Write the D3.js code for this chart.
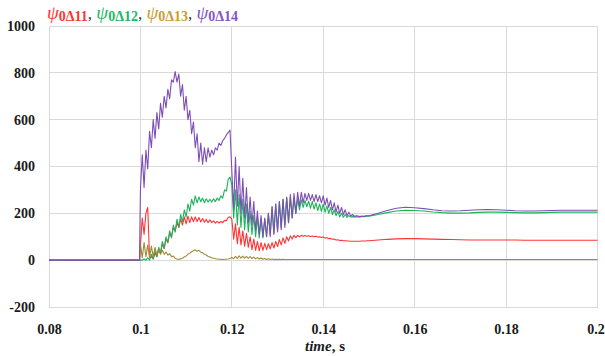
<!DOCTYPE html>
<html><head><meta charset="utf-8">
<script src="https://cdn.jsdelivr.net/npm/d3@7"></script>
<style>body{margin:0;background:#fff}svg{display:block}</style>
</head><body><svg id="c" width="605" height="356"></svg>
<script>
// ---------- data ----------
const xTicks = [0.08, 0.1, 0.12, 0.14, 0.16, 0.18, 0.2];
const xTickLabels = ["0.08", "0.1", "0.12", "0.14", "0.16", "0.18", "0.2"];
const yTicks = [-200, 0, 200, 400, 600, 800, 1000];
const yTickLabels = ["-200", "0", "200", "400", "600", "800", "1000"];
const seriesNames = ["0Δ11", "0Δ12", "0Δ13", "0Δ14"];

// pre-fault (all series zero)
const preTimes = [0.08, 0.0998];
const preValues = [0, 0];

// fast transient: samples every 0.4 ms starting at t = 0.1000 s
const fastStart = 0.1, fastStep = 0.0004;
const psi11Fast = [
  60,180,110,200,225,10,15,5,30,15,
  45,30,70,50,90,75,115,100,140,125,
  160,140,175,150,185,155,188,160,185,165,
  185,165,182,163,178,162,175,160,172,160,
  168,158,166,158,165,160,170,168,182,185,
  175,90,155,70,140,65,125,60,115,55,
  100,45,90,42,80,40,75,42,72,45,
  70,48,75,52,80,58,88,65,95,72,
  100,82,104,90,106,96,106,100,106,102,
  105,102,104,101,103,100,102,99,100,97,
  99,95,96,92,93,89,90,86,87,84,
  85,83,83,82,82,81,81,81,81,81,
  81,82,82,82,83];
const psi12Fast = [
  0,0,5,0,10,0,25,5,40,15,
  55,30,80,50,100,75,125,95,150,120,
  175,140,195,165,215,185,240,210,260,235,
  275,245,270,250,265,245,262,248,260,248,
  262,250,265,255,275,265,300,295,345,355,
  320,180,300,150,280,140,260,130,240,120,
  210,110,190,100,180,95,175,95,175,100,
  200,110,225,115,240,125,250,140,260,150,
  265,160,270,180,265,200,262,215,258,225,
  255,228,252,222,250,218,245,212,240,208,
  240,205,232,200,225,195,215,190,208,185,
  200,183,195,183,190,184,186,184,185,185,
  185,186,186,187,188];
const psi13Fast = [
  70,10,75,15,65,10,60,15,55,20,
  45,25,42,25,35,22,28,15,18,8,
  5,3,6,8,14,18,25,30,36,40,
  44,38,42,34,32,25,22,16,14,10,
  8,6,5,4,4,3,4,4,5,7,
  12,6,16,8,18,9,17,9,16,8,
  15,7,13,6,11,5,9,4,7,3,
  6,3,5,3,4,3,4,3,4,3,
  3,3,3,3,3,3,3,3,3,3,
  3,3,3,3,3,3,3,3,3,3,
  3,3,3,3,3,3,3,3,3,3,
  3,3,3,3,3,3,3,3,3,3,
  3,3,3,3,3];
const psi14Fast = [
  300,450,310,470,390,550,480,600,520,630,
  560,670,610,700,650,730,690,770,760,805,
  760,795,700,750,640,700,600,640,540,590,
  480,540,420,500,410,480,420,480,440,470,
  450,480,470,500,490,510,520,535,545,555,
  380,220,440,230,400,200,350,180,310,160,
  270,150,250,130,210,110,190,100,180,100,
  200,100,230,110,240,120,250,130,260,140,
  270,160,280,180,285,200,290,230,290,245,
  285,255,285,255,280,250,280,250,275,245,
  275,235,265,225,255,215,245,205,235,200,
  225,195,215,190,205,188,195,187,190,188,
  186,188,187,189,190];

// settling: samples every 2 ms from t = 0.150 s to 0.200 s
const slowStart = 0.15, slowStep = 0.002;
const psi11Slow = [83,86,89,91,92,92,91,90,89,88,87,86,86,86,86,86,86,85,85,85,85,85,85,85,85,85];
const psi12Slow = [188,195,203,210,213,212,210,206,203,201,201,202,204,205,205,204,203,202,202,203,204,205,205,205,205,205];
const psi13Slow = [3,3,3,3,3,3,3,3,3,3,3,3,3,3,3,3,3,3,3,3,3,3,3,3,3,3];
const psi14Slow = [190,200,212,222,226,224,220,215,211,210,211,213,215,216,215,213,211,210,210,211,212,213,213,213,213,213];

const colors = ["#ff3434", "#1db35a", "#a08a35", "#7d4fb5"];
const legendColors = ["#ff3434", "#22b866", "#c4a030", "#8456bd"];

// ---------- build ----------
function build(fast, slow) {
  const pts = preTimes.map((t, i) => [t, preValues[i]]);
  fast.forEach((v, i) => pts.push([fastStart + i * fastStep, v]));
  slow.forEach((v, i) => pts.push([slowStart + i * slowStep, v]));
  return pts;
}
const series = [
  build(psi11Fast, psi11Slow),
  build(psi12Fast, psi12Slow),
  build(psi13Fast, psi13Slow),
  build(psi14Fast, psi14Slow)
];

const svg = d3.select("#c");
const x = d3.scaleLinear().domain([0.08, 0.2]).range([49, 597.5]);
const y = d3.scaleLinear().domain([-200, 1000]).range([307, 26]);

// grid
const grid = svg.append("g");
grid.selectAll("line.v").data(xTicks).join("line")
  .attr("x1", d => x(d)).attr("x2", d => x(d))
  .attr("y1", y(1000)).attr("y2", y(-200))
  .attr("stroke", "#d9d9d9").attr("stroke-width", 1).attr("shape-rendering", "crispEdges");
grid.selectAll("line.h").data(yTicks).join("line")
  .attr("x1", x(0.08)).attr("x2", x(0.2))
  .attr("y1", d => y(d)).attr("y2", d => y(d))
  .attr("stroke", "#d9d9d9").attr("stroke-width", 1).attr("shape-rendering", "crispEdges");

// axes (labels only)
const font = "'Liberation Serif', 'Times New Roman', serif";
const yAxis = d3.axisLeft(y).tickValues(yTicks).tickFormat((d, i) => yTickLabels[i]).tickSize(0).tickPadding(14);
const gy = svg.append("g").attr("transform", `translate(${x(0.08)},0)`).call(yAxis);
gy.select(".domain").remove();
gy.selectAll("text").attr("font-family", font).attr("font-weight", "bold").attr("font-size", 14).attr("fill", "#1a1a1a");

const xAxis = d3.axisBottom(x).tickValues(xTicks).tickFormat((d, i) => xTickLabels[i]).tickSize(0).tickPadding(17);
const gx = svg.append("g").attr("transform", `translate(0,${y(-200)})`).call(xAxis);
gx.select(".domain").remove();
gx.selectAll("text").attr("font-family", font).attr("font-weight", "bold").attr("font-size", 14).attr("fill", "#1a1a1a")
  .attr("dx", (d, i) => i === xTicks.length - 1 ? -2 : 0);

// axis title
const xt = svg.append("text").attr("x", 325).attr("y", 351).attr("text-anchor", "middle")
  .attr("font-family", font).attr("font-size", 15).attr("font-weight", "bold").attr("fill", "#1a1a1a");
xt.append("tspan").attr("font-style", "italic").text("time");
xt.append("tspan").text(", s");

// lines
const line = d3.line().x(d => x(d[0])).y(d => y(d[1]));
svg.append("g").selectAll("path").data(series).join("path")
  .attr("d", line).attr("fill", "none")
  .attr("stroke", (d, i) => colors[i]).attr("stroke-width", 1.1).attr("stroke-linejoin", "round");

// legend
const lg = svg.append("text").attr("x", 47).attr("y", 19).attr("font-family", font);
seriesNames.forEach((n, i) => {
  lg.append("tspan").attr("font-style", "italic").attr("font-size", 19).attr("fill", legendColors[i]).text("ψ");
  lg.append("tspan").attr("font-weight", "bold").attr("font-size", 14).attr("dy", 2).attr("fill", legendColors[i]).text(n);
  if (i < seriesNames.length - 1) {
    lg.append("tspan").attr("font-size", 17).attr("dy", -2).attr("fill", "#333").text(", ");
  }
});
</script>
</body></html>
